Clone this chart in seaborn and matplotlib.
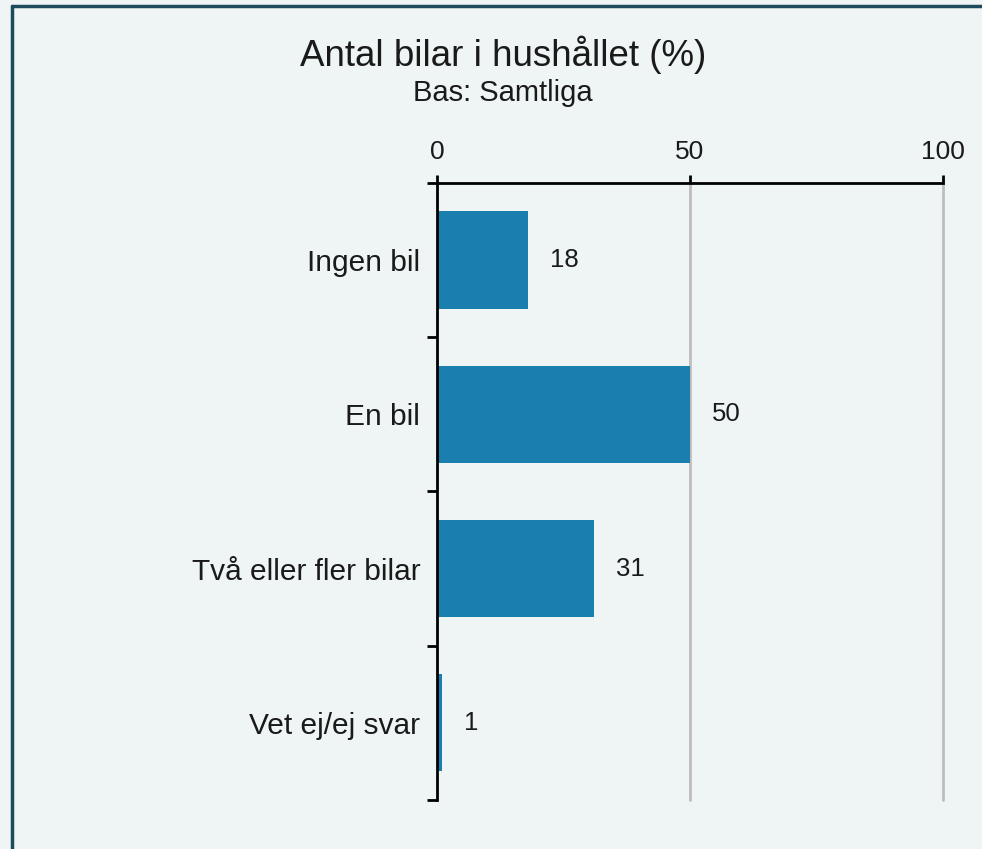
import numpy as np
import pandas as pd
import seaborn as sns
import matplotlib.pyplot as plt
from matplotlib.lines import Line2D

# data
categories = ['Ingen bil', 'En bil', 'Två eller fler bilar', 'Vet ej/ej svar']
values = [18, 50, 31, 1]
xticks = [0, 50, 100]

bg = '#EEF5F4'
bar_color = '#1A7FAF'
txt = '#1A1A1A'

sns.set_theme(style='white')
plt.rcParams['font.family'] = ['Liberation Sans', 'DejaVu Sans']
plt.rcParams['text.color'] = txt
plt.rcParams['xtick.labelcolor'] = txt
plt.rcParams['ytick.labelcolor'] = txt

df = pd.DataFrame({'kategori': categories, 'andel': values})

fig = plt.figure(figsize=(9.82, 8.49), dpi=100, facecolor=bg)
ax = fig.add_axes([0.445, 0.0577, 0.5153, 0.7268])
ax.set_facecolor(bg)

sns.barplot(data=df, x='andel', y='kategori', color=bar_color, saturation=1,
            width=0.63, orient='h', ax=ax, zorder=3, linewidth=0)

ax.set_xlim(0, 100)
ax.set_ylim(3.5, -0.5)
ax.set_xlabel('')
ax.set_ylabel('')

# x axis on top
ax.xaxis.tick_top()
ax.set_xticks(xticks)
ax.set_xticklabels([str(t) for t in xticks], fontsize=19)
ax.tick_params(axis='x', direction='out', length=6, width=2, color='black', pad=8)

# gridlines at 50 and 100
for t in xticks[1:]:
    ax.axvline(t, color='#BDBDBD', lw=2, zorder=1, clip_on=False)

# category labels, ticks at the boundaries
ax.set_yticks(range(len(categories)))
ax.set_yticklabels(categories, fontsize=21.5)
ax.tick_params(axis='y', which='major', length=0, pad=12)
ax.set_yticks(np.arange(-0.5, len(categories)), minor=True)
ax.tick_params(axis='y', which='minor', direction='out', length=7, width=2, color='black', left=True)

for s in ['right', 'bottom']:
    ax.spines[s].set_visible(False)
for s in ['left', 'top']:
    ax.spines[s].set_color('black')
    ax.spines[s].set_linewidth(2)
    ax.spines[s].set_zorder(4)

ax.bar_label(ax.containers[0], labels=[str(v) for v in values], padding=16, fontsize=18.5)

# titles
fig.text(0.512, 0.935, 'Antal bilar i hushållet (%)', ha='center', va='center', fontsize=26.5)
fig.text(0.512, 0.891, 'Bas: Samtliga', ha='center', va='center', fontsize=21)

# frame
fig.add_artist(Line2D([12/982, 12/982], [0, 1 - 6/849], color='#1C4B5D', lw=2.5, transform=fig.transFigure))
fig.add_artist(Line2D([12/982, 1], [1 - 6/849, 1 - 6/849], color='#1C4B5D', lw=2.5, transform=fig.transFigure))

fig.savefig('out.png', dpi=100, facecolor=bg)
